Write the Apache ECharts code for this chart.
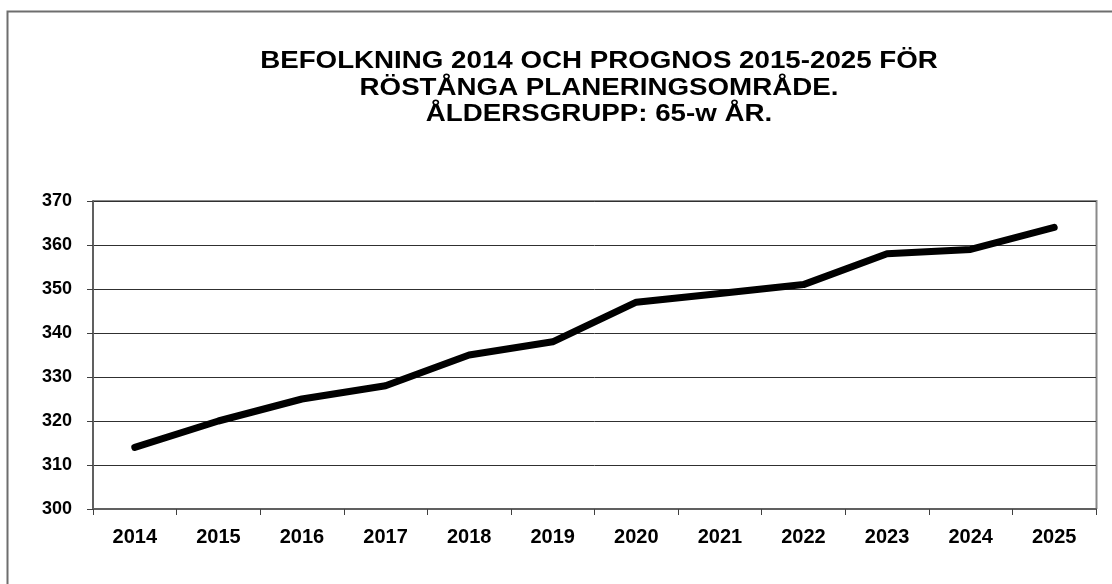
<!DOCTYPE html>
<html>
<head>
<meta charset="utf-8">
<script src="https://cdn.jsdelivr.net/npm/echarts@6/dist/echarts.min.js"></script>
<style>
	html, body { margin: 0; padding: 0; background: #fff; }
	#container { width: 1112px; height: 584px; }
</style>
</head>
<body>
<div id="container"></div>
<script>
	// data
	var years = ['2014', '2015', '2016', '2017', '2018', '2019', '2020', '2021', '2022', '2023', '2024', '2025'];
	var population = [314, 320, 325, 328, 335, 338, 347, 349, 351, 358, 359, 364];
	var titleLines = ['BEFOLKNING 2014 OCH PROGNOS 2015-2025 FÖR', 'RÖSTÅNGA PLANERINGSOMRÅDE.', 'ÅLDERSGRUPP: 65-w ÅR.'];

	var myChart = echarts.init(document.getElementById('container'));
	var font = 'Liberation Sans, Arial, sans-serif';

	// title lines drawn as graphic text so they can be stretched wide like the original
	var titleY = [62, 88.5, 115];
	var titleGraphics = titleLines.map(function(line, i) {
		return {
			type: 'text',
			x: 599,
			y: titleY[i],
			scaleX: 1.205,
			silent: true,
			style: {
				text: line,
				x: 0,
				y: 0,
				align: 'center',
				verticalAlign: 'middle',
				font: 'bold 23px ' + font,
				fill: '#000'
			}
		};
	});

	var option = {
		backgroundColor: '#fff',
		animation: false,
		graphic: [{
			type: 'rect',
			shape: { x: 7.5, y: 11.5, width: 1200, height: 700 },
			style: { fill: 'none', stroke: '#6e6e6e', lineWidth: 2 },
			silent: true
		}, {
			// plot border top/right
			type: 'polyline',
			shape: { points: [[93, 201], [1096.5, 201], [1096.5, 509]] },
			style: { stroke: '#8a8a8a', lineWidth: 2, fill: 'none' },
			silent: true
		}].concat(titleGraphics),
		grid: {
			left: 93,
			right: 1112 - 1096,
			top: 201,
			bottom: 584 - 509
		},
		xAxis: {
			type: 'category',
			data: years,
			boundaryGap: true,
			axisLine: { lineStyle: { color: '#606060', width: 2 } },
			axisTick: { show: true, length: 6, lineStyle: { color: '#404040' } },
			axisLabel: {
				margin: 18,
				fontFamily: font,
				fontSize: 20,
				fontWeight: 'bold',
				color: '#000'
			},
			splitLine: { show: false }
		},
		yAxis: {
			type: 'value',
			min: 300,
			max: 370,
			interval: 10,
			axisLine: { show: true, lineStyle: { color: '#606060', width: 2 } },
			axisTick: { show: true, length: 6, lineStyle: { color: '#404040' } },
			axisLabel: {
				margin: 21,
				fontFamily: font,
				fontSize: 18,
				fontWeight: 'bold',
				color: '#000'
			},
			splitLine: { show: true, lineStyle: { color: '#303030', width: 1 } }
		},
		series: [{
			type: 'line',
			data: population,
			showSymbol: false,
			lineStyle: { color: '#000', width: 7, cap: 'round', join: 'round' }
		}]
	};

	myChart.setOption(option, true);
</script>
</body>
</html>
